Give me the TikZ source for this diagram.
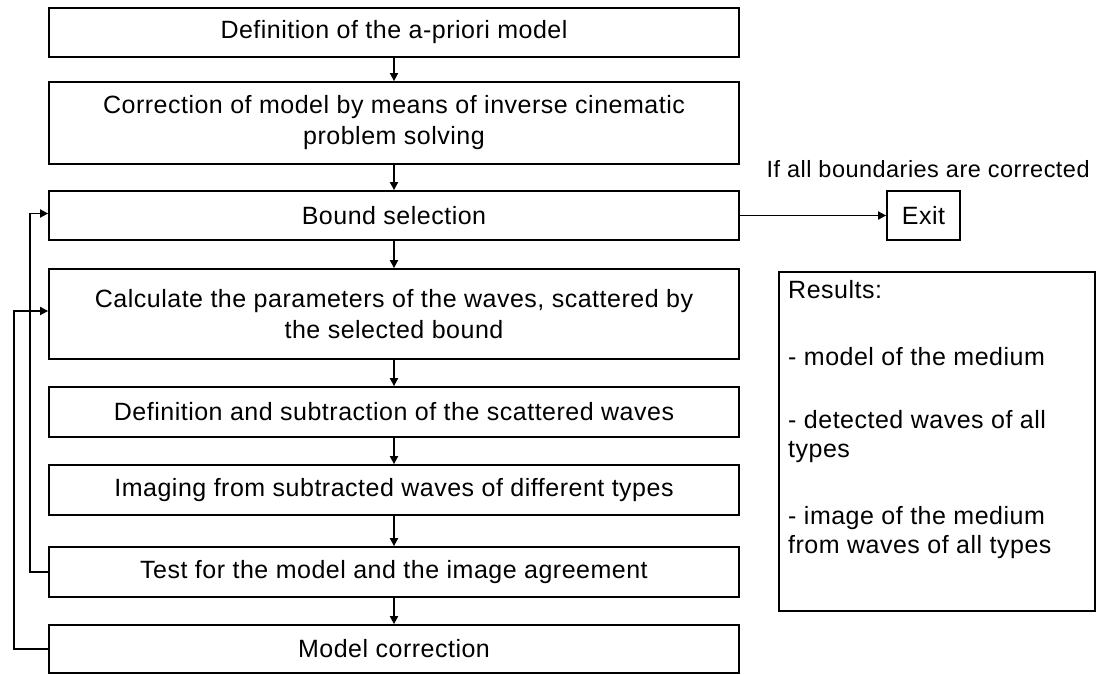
\documentclass[tikz,border=0pt]{standalone}
\usepackage{fontspec}
\setmainfont[LetterSpace=2]{Liberation Sans}
\usepackage{tikz}
\usetikzlibrary{positioning, arrows.meta, calc}
\tikzset{
    block/.style={draw, line width=1.8pt, minimum width=690pt, align=center, inner sep=0pt, font=\fontsize{25}{31}\selectfont},
    exit_block/.style={draw, line width=1.8pt, minimum width=73pt, minimum height=49pt, inner sep=0pt, font=\fontsize{25}{31}\selectfont},
    result_block/.style={draw, line width=1.8pt, minimum width=316pt, minimum height=339pt, inner sep=0pt, anchor=north west},
    flow_arrow/.style={line width=1.8pt, -{Triangle[length=8pt, width=8pt]}},
    note/.style={font=\fontsize{23.5}{28}\selectfont, anchor=base west}
}
\begin{document}
\begin{tikzpicture}[x=1pt, y=-1pt]
    \useasboundingbox (0,0) rectangle (1096,675);

    % --- Main chain of blocks ---
    \node (defn) [block, minimum height=49pt] at (394,32.5) {Definition of the a-priori model};
    \node (corr) [block, minimum height=82pt] at (394,123) {Correction of model by means of inverse cinematic\\problem solving};
    \node (bsel) [block, minimum height=49pt] at (394,215.5) {Bound selection};
    \node (calc) [block, minimum height=90pt] at (394,314) {Calculate the parameters of the waves, scattered by\\the selected bound};
    \node (subt) [block, minimum height=50pt] at (394,412) {Definition and subtraction of the scattered waves};
    \node (imag) [block, minimum height=50pt] at (394,490) {Imaging from subtracted waves of different types};
    \node (test) [block, minimum height=50pt] at (394,572) {Test for the model and the image agreement};
    \node (mcor) [block, minimum height=48pt] at (394,649) {Model correction};

    % --- Exit and results ---
    \node (exit) [exit_block] at (923.5,215.5) {Exit};
    \node[note] at (763,177) {If all boundaries are corrected};
    \node (results) [result_block] at (778,271) {};
    \node[anchor=north west, align=left, inner sep=0pt, font=\fontsize{25}{29}\selectfont] at (788,280)
        {Results:\\[38pt]- model of the medium\\[34pt]- detected waves of all\\types\\[38pt]- image of the medium\\from waves of all types};

    % --- Forward arrows ---
    \draw[flow_arrow] (defn) -- (corr);
    \draw[flow_arrow] (corr) -- (bsel);
    \draw[flow_arrow] (bsel) -- (calc);
    \draw[flow_arrow] (calc) -- (subt);
    \draw[flow_arrow] (subt) -- (imag);
    \draw[flow_arrow] (imag) -- (test);
    \draw[flow_arrow] (test) -- (mcor);
    \draw[flow_arrow] (bsel) -- (exit);

    % --- Feedback loops ---
    \draw[flow_arrow] (test.west) -- ++(-18,0) |- ($(bsel.west)+(0,-2)$);
    \draw[flow_arrow] (mcor.west) -- ++(-34,0) |- ($(calc.west)+(0,-3)$);
\end{tikzpicture}
\end{document}
